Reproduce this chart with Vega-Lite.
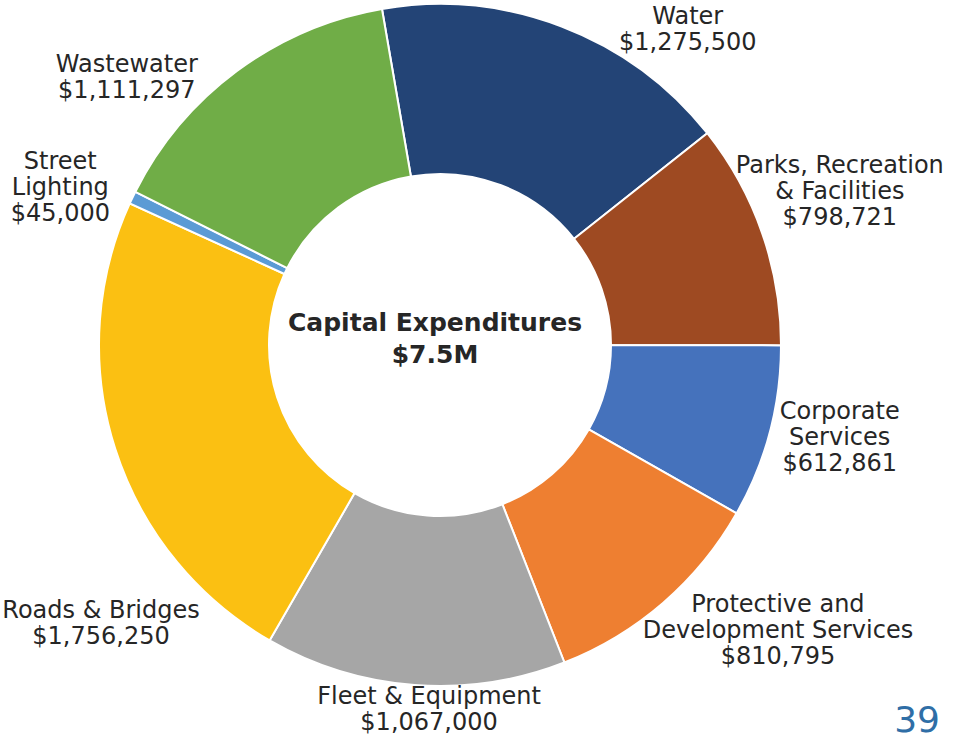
{
  "$schema": "https://vega.github.io/schema/vega-lite/v6.json",
  "width": 880,
  "height": 690,
  "autosize": {"type": "none"},
  "padding": {"left": 0, "top": 0, "right": 78, "bottom": 46},
  "background": "white",
  "config": {"view": {"stroke": null}},
  "title": {"text": "39", "orient": "bottom", "anchor": "end", "frame": "group", "offset": -168, "dx": 60, "baseline": "alphabetic", "fontSize": 36, "fontWeight": "normal", "font": "DejaVu Sans", "color": "#2F6EA6"},
  "data": {"values": [
    {"cat": "Water", "amount": 1275500, "label": "Water\n$1,275,500", "rank": 1},
    {"cat": "Parks, Recreation & Facilities", "amount": 798721, "label": "Parks, Recreation\n& Facilities\n$798,721", "rank": 2},
    {"cat": "Corporate Services", "amount": 612861, "label": "Corporate\nServices\n$612,861", "rank": 3},
    {"cat": "Protective and Development Services", "amount": 810795, "label": "Protective and\nDevelopment Services\n$810,795", "rank": 4},
    {"cat": "Fleet & Equipment", "amount": 1067000, "label": "Fleet & Equipment\n$1,067,000", "rank": 5},
    {"cat": "Roads & Bridges", "amount": 1756250, "label": "Roads & Bridges\n$1,756,250", "rank": 6},
    {"cat": "Street Lighting", "amount": 45000, "label": "Street\nLighting\n$45,000", "rank": 7},
    {"cat": "Wastewater", "amount": 1111297, "label": "Wastewater\n$1,111,297", "rank": 8}
  ]},
  "layer": [
    {
      "encoding": {
        "theta": {"field": "amount", "type": "quantitative", "stack": true, "scale": {"range": [-0.171, 6.1122]}},
        "order": {"field": "rank", "type": "ordinal"}
      },
      "layer": [
        {
          "mark": {"type": "arc", "outerRadius": 341, "innerRadius": 171, "stroke": "white", "strokeWidth": 2},
          "encoding": {
            "color": {"field": "cat", "type": "nominal", "legend": null,
              "scale": {"domain": ["Water", "Parks, Recreation & Facilities", "Corporate Services", "Protective and Development Services", "Fleet & Equipment", "Roads & Bridges", "Street Lighting", "Wastewater"],
                        "range": ["#234476", "#9E4A22", "#4572BC", "#EE7F31", "#A6A6A6", "#FBC012", "#5B9BD5", "#70AD47"]}}
          }
        },
        {
          "mark": {"type": "text", "radius": 400, "dx": 105, "dy": 46, "fontSize": 24, "lineHeight": 26, "lineBreak": "\n", "font": "DejaVu Sans", "color": "#262626", "align": "center", "baseline": "middle"},
          "encoding": {"text": {"condition": {"test": "datum.cat === 'Water'", "field": "label", "type": "nominal"}, "value": ""}}
        },
        {
          "mark": {"type": "text", "radius": 400, "dx": 22, "dy": -48, "fontSize": 24, "lineHeight": 26, "lineBreak": "\n", "font": "DejaVu Sans", "color": "#262626", "align": "center", "baseline": "middle"},
          "encoding": {"text": {"condition": {"test": "datum.cat === 'Parks, Recreation & Facilities'", "field": "label", "type": "nominal"}, "value": ""}}
        },
        {
          "mark": {"type": "text", "radius": 400, "dx": 13, "dy": -35, "fontSize": 24, "lineHeight": 26, "lineBreak": "\n", "font": "DejaVu Sans", "color": "#262626", "align": "center", "baseline": "middle"},
          "encoding": {"text": {"condition": {"test": "datum.cat === 'Corporate Services'", "field": "label", "type": "nominal"}, "value": ""}}
        },
        {
          "mark": {"type": "text", "radius": 400, "dx": 76, "dy": -42, "fontSize": 24, "lineHeight": 26, "lineBreak": "\n", "font": "DejaVu Sans", "color": "#262626", "align": "center", "baseline": "middle"},
          "encoding": {"text": {"condition": {"test": "datum.cat === 'Protective and Development Services'", "field": "label", "type": "nominal"}, "value": ""}}
        },
        {
          "mark": {"type": "text", "radius": 400, "dx": 19, "dy": -47, "fontSize": 24, "lineHeight": 26, "lineBreak": "\n", "font": "DejaVu Sans", "color": "#262626", "align": "center", "baseline": "middle"},
          "encoding": {"text": {"condition": {"test": "datum.cat === 'Fleet & Equipment'", "field": "label", "type": "nominal"}, "value": ""}}
        },
        {
          "mark": {"type": "text", "radius": 400, "dx": 42, "dy": 144, "fontSize": 24, "lineHeight": 26, "lineBreak": "\n", "font": "DejaVu Sans", "color": "#262626", "align": "center", "baseline": "middle"},
          "encoding": {"text": {"condition": {"test": "datum.cat === 'Roads & Bridges'", "field": "label", "type": "nominal"}, "value": ""}}
        },
        {
          "mark": {"type": "text", "radius": 400, "dx": -19, "dy": -10, "fontSize": 24, "lineHeight": 26, "lineBreak": "\n", "font": "DejaVu Sans", "color": "#262626", "align": "center", "baseline": "middle"},
          "encoding": {"text": {"condition": {"test": "datum.cat === 'Street Lighting'", "field": "label", "type": "nominal"}, "value": ""}}
        },
        {
          "mark": {"type": "text", "radius": 400, "dx": -75, "dy": 41, "fontSize": 24, "lineHeight": 26, "lineBreak": "\n", "font": "DejaVu Sans", "color": "#262626", "align": "center", "baseline": "middle"},
          "encoding": {"text": {"condition": {"test": "datum.cat === 'Wastewater'", "field": "label", "type": "nominal"}, "value": ""}}
        }
      ]
    },
    {
      "data": {"values": [{"centre": "Capital Expenditures\n$7.5M"}]},
      "mark": {"type": "text", "dx": -5, "dy": -22, "fontSize": 25, "fontWeight": "bold", "lineHeight": 32, "lineBreak": "\n", "font": "DejaVu Sans", "color": "#262626", "align": "center", "baseline": "middle"},
      "encoding": {"text": {"field": "centre", "type": "nominal"}}
    }
  ]
}
